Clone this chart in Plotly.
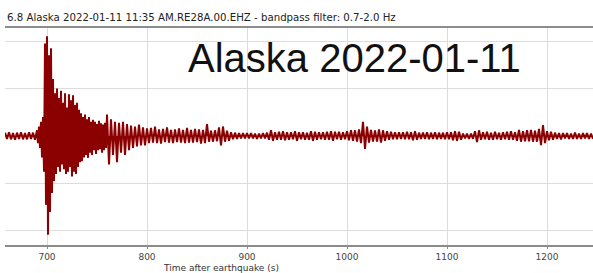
import numpy as np
import plotly.graph_objects as go

# Seismogram peak values (alternating positive/negative swings)
# pre-event noise, t = 658..688 s every 2 s
pre_event = [0.07, -0.06, 0.08, -0.07, 0.06, -0.08, 0.07, -0.06, 0.08, -0.07, 0.06, -0.07, 0.08, -0.06, 0.07, -0.08]
# main arrival, t = 690..759 s every 1 s
arrival = [0.12, -0.15, 0.2, -0.25, 0.3, -0.45, 0.4, -0.75, 1.95, -1.45,
           2.1, -2.08, 1.7, -1.6, 1.85, -1.2, 1.2, -0.95, 0.9, -0.8,
           1.0, -0.65, 0.8, -0.75, 0.95, -0.6, 0.7, -0.7, 0.9, -0.8,
           0.6, -0.75, 0.88, -0.65, 0.75, -0.85, 0.86, -0.75, 0.65, -0.8,
           0.7, -0.65, 0.55, -0.55, 0.48, -0.53, 0.4, -0.45, 0.45, -0.4,
           0.35, -0.46, 0.4, -0.35, 0.3, -0.4, 0.34, -0.3, 0.3, -0.38,
           0.25, -0.3, 0.32, -0.28, 0.27, -0.35, 0.24, -0.3, 0.28, -0.25]
# coda, t = 760..1246 s every 2 s
coda = [0.45, -0.6, 0.35, -0.4, 0.3, -0.55, 0.28, -0.35, 0.3, -0.4, 0.25, -0.3, 0.22, -0.25, 0.2, -0.22, 0.24, -0.2, 0.18, -0.2, 0.16,
        -0.15, 0.17, -0.14, 0.2, -0.15, 0.14, -0.16, 0.15, -0.13, 0.18, -0.14, 0.13, -0.15, 0.14, -0.13, 0.16, -0.14, 0.13, -0.15, 0.17,
        -0.14, 0.13, -0.14, 0.15, -0.13, 0.14, -0.16, 0.13, -0.15, 0.25,
        -0.12, 0.11, -0.12, 0.12, -0.11, 0.18, -0.2, 0.2, -0.12, 0.11, -0.1, 0.08, -0.07, 0.07, -0.06, 0.06, -0.05, 0.06, -0.05, 0.06,
        -0.05, 0.06, -0.05, 0.05, -0.06, 0.05, -0.05, 0.06, -0.05, 0.07, -0.08, 0.12, -0.1, 0.08, -0.08, 0.09, -0.08, 0.1, -0.09, 0.08,
        -0.08, 0.08, -0.07, 0.1, -0.1, 0.08, -0.07, 0.08, -0.08, 0.07, -0.08, 0.1, -0.1, 0.09, -0.08, 0.08, -0.07, 0.08, -0.08, 0.09,
        -0.08, 0.1, -0.1, 0.09, -0.07, 0.09, -0.08, 0.08, -0.07, 0.1, -0.09, 0.12, -0.1, 0.12, -0.12, 0.14, -0.15, 0.3, -0.27, 0.2,
        -0.14, 0.13, -0.12, 0.12, -0.12, 0.14, -0.14, 0.12, -0.1, 0.1, -0.08, 0.09, -0.07, 0.08, -0.07, 0.08, -0.06, 0.08, -0.07, 0.09,
        -0.07, 0.08, -0.09, 0.1, -0.08, 0.07, -0.06, 0.07, -0.06, 0.08, -0.07, 0.07, -0.06, 0.08, -0.07, 0.07, -0.06, 0.07, -0.07, 0.08,
        -0.07, 0.08, -0.09, 0.1, -0.1, 0.09, -0.08, 0.05, -0.05, 0.05, -0.06, 0.05, -0.06, 0.1, -0.13, 0.12, -0.08, 0.08, -0.07, 0.09,
        -0.08, 0.07, -0.08, 0.09, -0.07, 0.07, -0.08, 0.08, -0.07, 0.09, -0.08, 0.1, -0.08, 0.08, -0.1, 0.13, -0.12, 0.1, -0.11, 0.12,
        -0.11, 0.13, -0.12, 0.11, -0.12, 0.15, -0.19, 0.23, -0.15, 0.1, -0.09, 0.09, -0.08, 0.07, -0.06, 0.06, -0.07, 0.06, -0.05, 0.06,
        -0.06, 0.05, -0.06, 0.07, -0.06, 0.05, -0.06, 0.06, -0.05, 0.06, -0.06, 0.05, -0.06]

t_pre = list(range(658, 689, 2))
t_arr = list(range(690, 760, 1))
t_coda = list(range(760, 1247, 2))

x_ticks = [700, 800, 900, 1000, 1100, 1200]
title_text = "6.8 Alaska 2022-01-11 11:35 AM.RE28A.00.EHZ - bandpass filter: 0.7-2.0 Hz"
big_text = "Alaska 2022-01-11"
x_label = "Time after earthquake (s)"

t_all, v_all = [], []
for tt, vv in ((t_pre, pre_event), (t_arr, arrival), (t_coda, coda)):
    n = min(len(tt), len(vv))
    t_all += tt[:n]
    v_all += vv[:n]

fig = go.Figure()
fig.add_trace(go.Scatter(x=t_all, y=v_all, mode="lines",
                         line=dict(color="#8B0000", width=2),
                         fill="tozeroy", fillcolor="#8B0000",
                         hoverinfo="skip"))

fig.update_layout(
    width=593, height=273,
    margin=dict(l=5, r=0, t=28, b=28),
    paper_bgcolor="white", plot_bgcolor="white",
    showlegend=False,
    font=dict(family="DejaVu Sans", color="#333"),
)
fig.update_xaxes(range=[658, 1246], tickvals=x_ticks, ticktext=[str(v) for v in x_ticks],
                 showgrid=True, gridcolor="#dcdcdc", gridwidth=1,
                 showline=True, mirror=True, linecolor="#8c8c8c", linewidth=2,
                 ticks="outside", ticklen=2, tickcolor="#8c8c8c",
                 tickfont=dict(size=9, color="#444"), zeroline=False)
fig.update_yaxes(range=[-2.295, 2.274], dtick=1, showgrid=True, gridcolor="#dcdcdc", gridwidth=1,
                 showticklabels=False, showline=False, zeroline=False)

fig.add_annotation(text=title_text, xref="paper", yref="paper", x=0, y=1,
                   xanchor="left", yanchor="bottom", xshift=0, yshift=3, showarrow=False,
                   font=dict(family="DejaVu Sans", size=10.2, color="#222"))
fig.add_annotation(text=big_text, xref="paper", yref="paper", x=0.595, y=0.862,
                   xanchor="center", yanchor="middle", showarrow=False,
                   font=dict(family="Liberation Sans", size=40, color="#111"))
fig.add_annotation(text=x_label, xref="paper", yref="paper", x=(221 - 5) / 588, y=0,
                   xanchor="center", yanchor="top", yshift=-16, showarrow=False,
                   font=dict(family="DejaVu Sans", size=9, color="#333"))

fig.write_html("out.html", config={"displayModeBar": False},
               post_script="document.body.style.margin='0';document.body.style.padding='0';document.body.style.overflow='hidden';")
